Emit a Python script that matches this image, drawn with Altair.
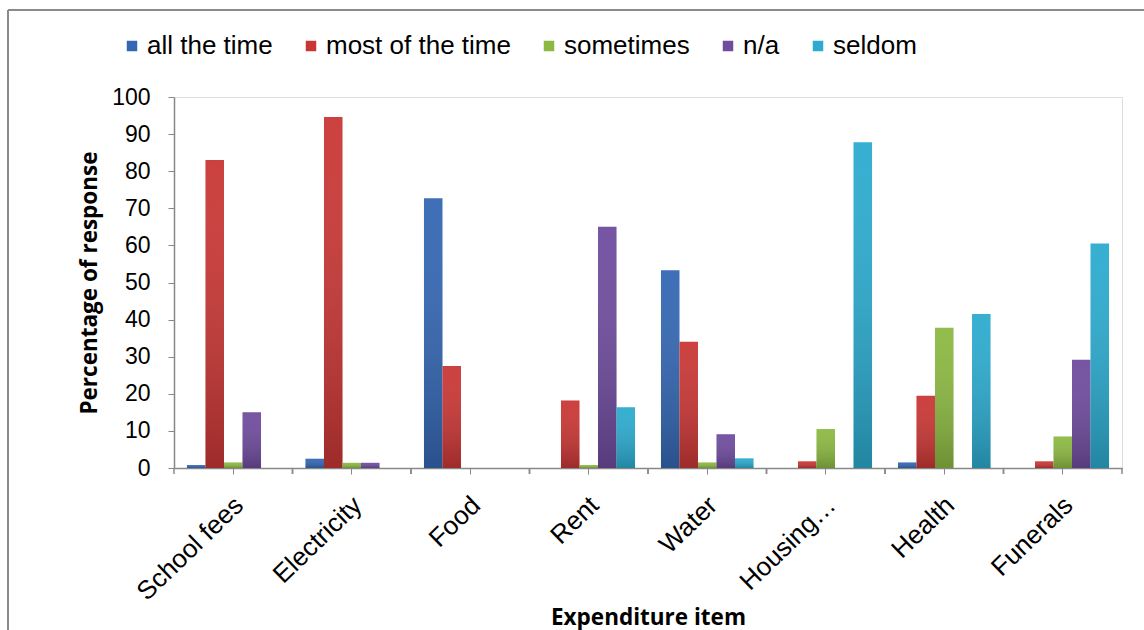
import altair as alt
import pandas as pd

# Expenditure items and response frequency (percentage of respondents)
items = ["School fees", "Electricity", "Food", "Rent", "Water", "Housing…", "Health", "Funerals"]
series = ["all the time", "most of the time", "sometimes", "n/a", "seldom"]

all_the_time = [0.8, 2.5, 72.7, 0.0, 53.3, 0.0, 1.5, 0.0]
most_of_the_time = [83.0, 94.6, 27.5, 18.2, 34.0, 1.8, 19.5, 1.8]
sometimes = [1.5, 1.4, 0.0, 0.8, 1.5, 10.5, 37.8, 8.5]
n_a = [15.0, 1.4, 0.0, 65.0, 9.1, 0.0, 0.0, 29.2]
seldom = [0.0, 0.0, 0.0, 16.4, 2.6, 87.8, 41.5, 60.5]

colors = ["#3467B3", "#C93735", "#8CB942", "#6F4C9E", "#2CABCF"]

values = [all_the_time, most_of_the_time, sometimes, n_a, seldom]
rows = []
for s, vals in zip(series, values):
    for item, v in zip(items, vals):
        if v > 0:
            rows.append({"item": item, "response": s, "pct": v})
df = pd.DataFrame(rows)

W, H = 948, 371

x_scale = alt.Scale(domain=items, paddingInner=0, paddingOuter=0)
x_axis = alt.Axis(
    title="Expenditure item",
    labelAngle=-44,
    labelAlign="right",
    labelBaseline="middle",
    labelFont="Liberation Sans",
    labelFontSize=26,
    labelColor="#000000",
    labelPadding=27,
    labelOffset=6,
    labelLimit=300,
    tickSize=6,
    tickColor="#888888",
    domainColor="#888888",
    domainWidth=1.5,
    titleFont="Open Sans",
    titleFontWeight="bold",
    titleFontSize=22.5,
    titleColor="#000000",
    titleBaseline="middle",
    titleY=149,
)
x_enc = alt.X("item:N", sort=items, scale=x_scale, axis=x_axis)
# bars sit in the middle of each category, leaving a gap on both sides
xo_enc = alt.XOffset(
    "response:N", sort=series, scale=alt.Scale(domain=series, paddingInner=0, paddingOuter=0.7)
)
y_enc = alt.Y(
    "pct:Q",
    scale=alt.Scale(domain=[0, 100], nice=False),
    axis=alt.Axis(
        title="Percentage of response",
        values=list(range(0, 101, 10)),
        grid=False,
        labelOverlap=False,
        labelFont="Liberation Sans",
        labelFontSize=23,
        labelColor="#000000",
        labelPadding=18,
        tickSize=6,
        tickColor="#888888",
        domainColor="#888888",
        domainWidth=1.5,
        titleFont="Open Sans",
        titleFontWeight="bold",
        titleFontSize=22.5,
        titleColor="#000000",
        titlePadding=10,
    ),
)

base = alt.Chart(df)

bars = base.mark_bar().encode(
    x=x_enc,
    xOffset=xo_enc,
    y=y_enc,
    color=alt.Color(
        "response:N",
        scale=alt.Scale(domain=series, range=colors),
        legend=alt.Legend(
            title=None,
            orient="none",
            direction="horizontal",
            columns=5,
            legendX=-55,
            legendY=-64,
            symbolType="square",
            symbolSize=110,
            symbolStrokeWidth=0,
            labelFont="Liberation Sans",
            labelFontSize=26,
            labelColor="#000000",
            labelOffset=2,
            labelLimit=400,
            columnPadding=25,
        ),
    ),
)

# soft vertical shading on each bar
shade = base.mark_bar(
    color=alt.Gradient(
        gradient="linear",
        stops=[
            alt.GradientStop(color="rgba(255,255,255,0.05)", offset=0),
            alt.GradientStop(color="rgba(0,0,0,0.22)", offset=1),
        ],
        x1=0, x2=0, y1=0, y2=1,
    )
).encode(x=x_enc, xOffset=xo_enc, y=y_enc)

# extra ticks at category boundaries
tick_data = alt.Data(values=[{"item": i} for i in items])
bound_left = alt.Chart(tick_data).mark_rule(color="#888888", strokeWidth=1.5).encode(
    x=alt.X("item:N", sort=items, bandPosition=0, scale=x_scale, axis=x_axis),
    y=alt.value(H),
    y2=alt.value(H + 6),
)
bound_right = alt.Chart(tick_data).mark_rule(color="#888888", strokeWidth=1.5).encode(
    x=alt.X("item:N", sort=items, bandPosition=1, scale=x_scale, axis=x_axis),
    y=alt.value(H),
    y2=alt.value(H + 6),
)

# chart frame
one = alt.Data(values=[{}])
frame_top = alt.Chart(one).mark_rule(color="#8a8a8a", strokeWidth=2).encode(
    x=alt.value(-166), x2=alt.value(W + 30), y=alt.value(-87)
)
frame_left = alt.Chart(one).mark_rule(color="#8a8a8a", strokeWidth=2).encode(
    x=alt.value(-166), y=alt.value(-87), y2=alt.value(H + 170)
)

chart = (
    alt.layer(bars, shade, bound_left, bound_right, frame_top, frame_left)
    .properties(
        width=W,
        height=H,
        autosize=alt.AutoSizeParams(type="none"),
        padding={"left": 174, "top": 97, "right": 22, "bottom": 162},
    )
    .configure_view(stroke=None)
    .configure(background="#ffffff")
)

chart.save("out.html", embed_options={"renderer": "svg", "actions": False})
